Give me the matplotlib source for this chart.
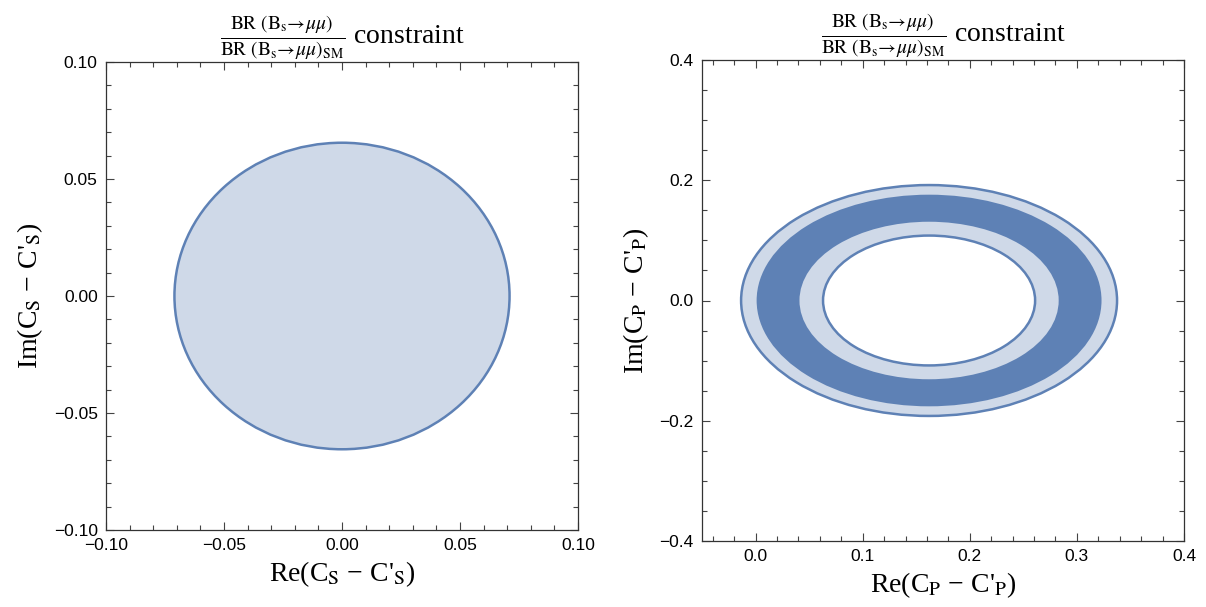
import matplotlib
matplotlib.use("Agg")
import matplotlib.pyplot as plt
import matplotlib.ticker as mticker
from matplotlib.patches import Ellipse

# left panel: allowed region in the (Re, Im) plane of C_S - C'_S
s_center = (0.0, 0.0)
s_semi_x = 0.071
s_semi_y = 0.0655

# right panel: nested contours for C_P - C'_P, outermost first
p_center = (0.162, 0.0)
p_semi_x = [0.1755, 0.161, 0.121, 0.099]
p_semi_y = [0.192, 0.176, 0.131, 0.108]

BLUE = "#5e81b5"
LIGHT = "#cfd9e8"

plt.rcParams["font.family"] = "serif"
plt.rcParams["font.serif"] = ["Liberation Serif", "DejaVu Serif"]
plt.rcParams["mathtext.fontset"] = "stix"

title = (r"$\frac{\mathrm{BR\ (B_s\!\rightarrow\!}\mu\mu\mathrm{)}}"
         r"{\mathrm{BR\ (B_s\!\rightarrow\!}\mu\mu\mathrm{)_{SM}}}$ constraint")


def minus_fmt(fmt):
    return mticker.FuncFormatter(lambda v, p: (fmt % v).replace("-", "\u2212"))


def style_axes(ax, major, minor, fmt):
    ax.xaxis.set_major_locator(mticker.MultipleLocator(major[0]))
    ax.yaxis.set_major_locator(mticker.MultipleLocator(major[1]))
    ax.xaxis.set_minor_locator(mticker.MultipleLocator(minor[0]))
    ax.yaxis.set_minor_locator(mticker.MultipleLocator(minor[1]))
    ax.xaxis.set_major_formatter(minus_fmt(fmt[0]))
    ax.yaxis.set_major_formatter(minus_fmt(fmt[1]))
    ax.tick_params(which="both", direction="in", top=True, right=True,
                   color="#444444", width=0.8)
    ax.tick_params(which="major", length=6, labelsize=12.5, pad=6)
    ax.tick_params(which="minor", length=3.5)
    for lab in ax.get_xticklabels() + ax.get_yticklabels():
        lab.set_family("Liberation Sans")
    for sp in ax.spines.values():
        sp.set_color("#333333")
        sp.set_linewidth(0.9)
    ax.set_title(title, fontsize=20, pad=8)


fig = plt.figure(figsize=(12.06, 6.07), dpi=100)
ax1 = fig.add_axes([106 / 1206, 1 - 530 / 607, 472 / 1206, 468 / 607])
ax2 = fig.add_axes([702 / 1206, 1 - 541 / 607, 482 / 1206, 481 / 607])

# left: single filled ellipse with outline
ax1.add_patch(Ellipse(s_center, 2 * s_semi_x, 2 * s_semi_y,
                      facecolor=LIGHT, edgecolor=BLUE, linewidth=1.8))
ax1.set_xlim(-0.10, 0.10)
ax1.set_ylim(-0.10, 0.10)
style_axes(ax1, (0.05, 0.05), (0.01, 0.01), ("%.2f", "%.2f"))
ax1.set_xlabel("Re(C$_\\mathrm{S}$ \u2212 C'$_\\mathrm{S}$)", fontsize=20, labelpad=4)
ax1.set_ylabel("Im(C$_\\mathrm{S}$ \u2212 C'$_\\mathrm{S}$)", fontsize=20, labelpad=6)

# right: light / dark / light bands, white hole
fills = [LIGHT, BLUE, LIGHT, "white"]
for a, b, fc in zip(p_semi_x, p_semi_y, fills):
    ax2.add_patch(Ellipse(p_center, 2 * a, 2 * b, facecolor=fc, edgecolor="none"))
for i in (0, -1):
    ax2.add_patch(Ellipse(p_center, 2 * p_semi_x[i], 2 * p_semi_y[i],
                          facecolor="none", edgecolor=BLUE, linewidth=1.8))
ax2.set_xlim(-0.05, 0.40)
ax2.set_ylim(-0.40, 0.40)
style_axes(ax2, (0.1, 0.2), (0.02, 0.05), ("%.1f", "%.1f"))
ax2.set_xlabel("Re(C$_\\mathrm{P}$ \u2212 C'$_\\mathrm{P}$)", fontsize=20, labelpad=4)
ax2.set_ylabel("Im(C$_\\mathrm{P}$ \u2212 C'$_\\mathrm{P}$)", fontsize=20, labelpad=6)

fig.savefig("out.png", dpi=100)
